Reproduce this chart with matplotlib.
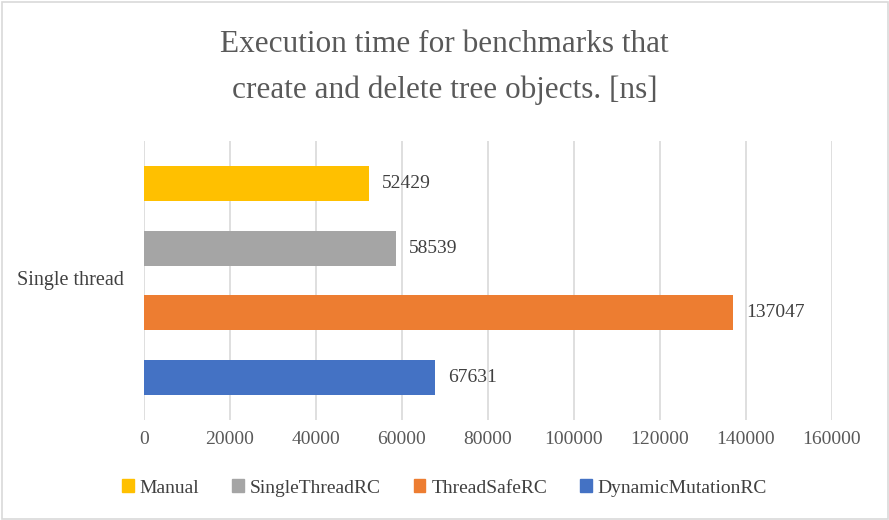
import matplotlib
matplotlib.use("Agg")
import matplotlib.pyplot as plt
from matplotlib.patches import Rectangle

# data
category = "Single thread"
series = ["Manual", "SingleThreadRC", "ThreadSafeRC", "DynamicMutationRC"]
values = [52429, 58539, 137047, 67631]
colors = ["#FFC000", "#A5A5A5", "#ED7D31", "#4472C4"]
xticks = [0, 20000, 40000, 60000, 80000, 100000, 120000, 140000, 160000]

plt.rcParams['font.family'] = ['Liberation Serif', 'DejaVu Serif']
text_col = "#595959"

fig = plt.figure(figsize=(8.89, 5.2), dpi=100)
W, H = 889, 520
ax = fig.add_axes([144 / W, 1 - 420 / H, (832 - 144) / W, (420 - 141) / H])

pos = list(range(len(series)))
ax.barh(pos, values, height=0.54, color=colors, zorder=3)
for p, v in zip(pos, values):
  ax.text(v + 3000, p, str(v), va='center', ha='left', fontsize=14, color="#404040")

ax.set_ylim(3.65, -0.65)
ax.set_xlim(0, 160000)
ax.set_xticks(xticks)
ax.set_xticklabels([str(t) for t in xticks], fontsize=14, color=text_col)
ax.set_yticks([])
ax.tick_params(axis='x', length=0, pad=8)
ax.grid(axis='x', color="#D9D9D9", linewidth=1.2, zorder=0)
for sp in ax.spines.values():
  sp.set_visible(False)

fig.text(70 / W, 1 - 280 / H, category, ha='center', va='center', fontsize=14.5, color="#404040")

fig.text(0.5, 1 - 45 / H, "Execution time for benchmarks that", ha='center', va='center',
         fontsize=22.5, color=text_col)
fig.text(0.5, 1 - 90 / H, "create and delete tree objects. [ns]", ha='center', va='center',
         fontsize=22.5, color=text_col)

handles = [Rectangle((0, 0), 1, 1, color=c) for c in colors]
fig.legend(handles, series, loc='center', bbox_to_anchor=(0.5, 1 - 488 / H), ncol=4,
           frameon=False, fontsize=14, handlelength=0.6, handleheight=0.6,
           handletextpad=0.3, columnspacing=1.7, labelcolor="#404040")

fig.patches.append(Rectangle((1.5 / W, 1.5 / H), (W - 3) / W, (H - 3) / H, transform=fig.transFigure,
                             fill=False, edgecolor="#D9D9D9", linewidth=1.2))

fig.savefig("out.png", dpi=100)
